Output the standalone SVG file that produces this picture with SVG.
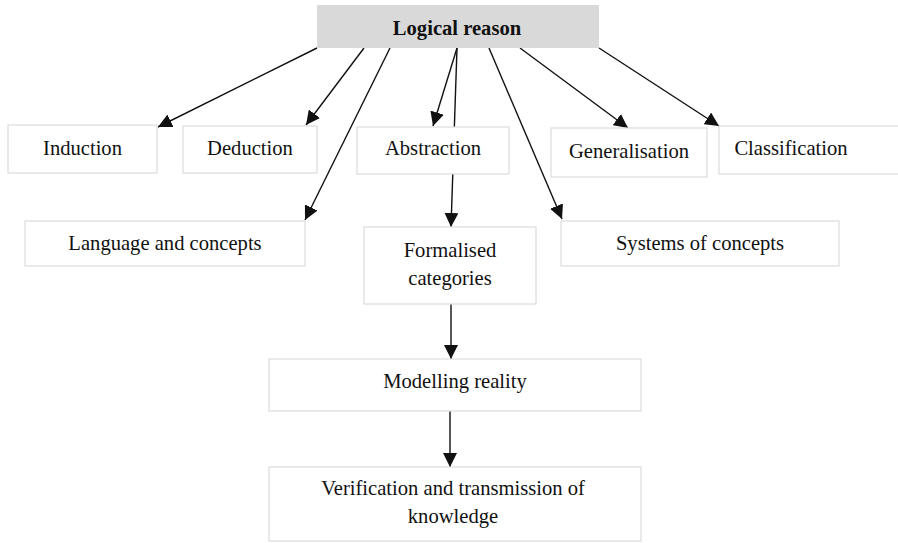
<svg xmlns="http://www.w3.org/2000/svg" width="898" height="543" viewBox="0 0 898 543">
<style>
.box{fill:#ffffff;stroke:#dcdcdc;stroke-width:1.2}
.head{fill:#d9d9d9;stroke:none}
.t{font-family:"Liberation Serif","Times New Roman",serif;font-size:20.6px;fill:#111111;text-anchor:middle}
.b{font-weight:bold}
.c{stroke:#111111;stroke-width:1.4;fill:none}
.a{marker-end:url(#ah)}
</style>
<defs>
<marker id="ah" markerUnits="userSpaceOnUse" markerWidth="14" markerHeight="14" viewBox="0 0 12 12" refX="12" refY="6" orient="auto">
<path d="M0,0 L12,6 L0,12 z" fill="#111111"/>
</marker>
</defs>
<rect width="898" height="543" fill="#ffffff"/>
<g id="connectors">
<line class="c a" x1="317" y1="48" x2="158" y2="127"/>
<line class="c a" x1="364" y1="48" x2="306" y2="125"/>
<line class="c a" x1="390" y1="48" x2="305" y2="220"/>
<line class="c a" x1="457" y1="48" x2="433" y2="126"/>
<line class="c a" x1="457" y1="48" x2="451" y2="227"/>
<line class="c a" x1="489" y1="48" x2="562" y2="219"/>
<line class="c a" x1="520" y1="48" x2="628" y2="128"/>
<line class="c a" x1="599" y1="48" x2="719" y2="126"/>
<line class="c a" x1="451" y1="304" x2="451" y2="359"/>
<line class="c a" x1="450" y1="411" x2="450" y2="467"/>
</g>
<g id="logical-reason">
<rect class="head" x="317" y="5" width="282" height="43"/>
<text class="t b" x="457" y="35">Logical reason</text>
</g>
<g id="induction">
<rect class="box" x="8" y="125" width="149" height="48"/>
<text class="t" x="82.5" y="155">Induction</text>
</g>
<g id="deduction">
<rect class="box" x="183" y="126" width="134" height="47"/>
<text class="t" x="250" y="155">Deduction</text>
</g>
<g id="abstraction">
<rect class="box" x="357" y="127" width="152" height="47"/>
<text class="t" x="433" y="155">Abstraction</text>
</g>
<g id="generalisation">
<rect class="box" x="551" y="128" width="156" height="49"/>
<text class="t" x="629" y="158">Generalisation</text>
</g>
<g id="classification">
<rect class="box" x="719" y="126" width="185" height="48"/>
<text class="t" x="791" y="155">Classification</text>
</g>
<g id="language-and-concepts">
<rect class="box" x="25" y="221" width="280" height="45"/>
<text class="t" x="165" y="250">Language and concepts</text>
</g>
<g id="formalised-categories">
<rect class="box" x="364" y="227" width="172" height="77"/>
<text class="t" x="450" y="257">Formalised</text>
<text class="t" x="450" y="285">categories</text>
</g>
<g id="systems-of-concepts">
<rect class="box" x="561" y="221" width="278" height="45"/>
<text class="t" x="700" y="250">Systems of concepts</text>
</g>
<g id="modelling-reality">
<rect class="box" x="269" y="359" width="372" height="52"/>
<text class="t" x="455" y="388">Modelling reality</text>
</g>
<g id="verification">
<rect class="box" x="269" y="467" width="372" height="74"/>
<text class="t" x="453" y="495">Verification and transmission of</text>
<text class="t" x="453" y="523">knowledge</text>
</g>
</svg>
